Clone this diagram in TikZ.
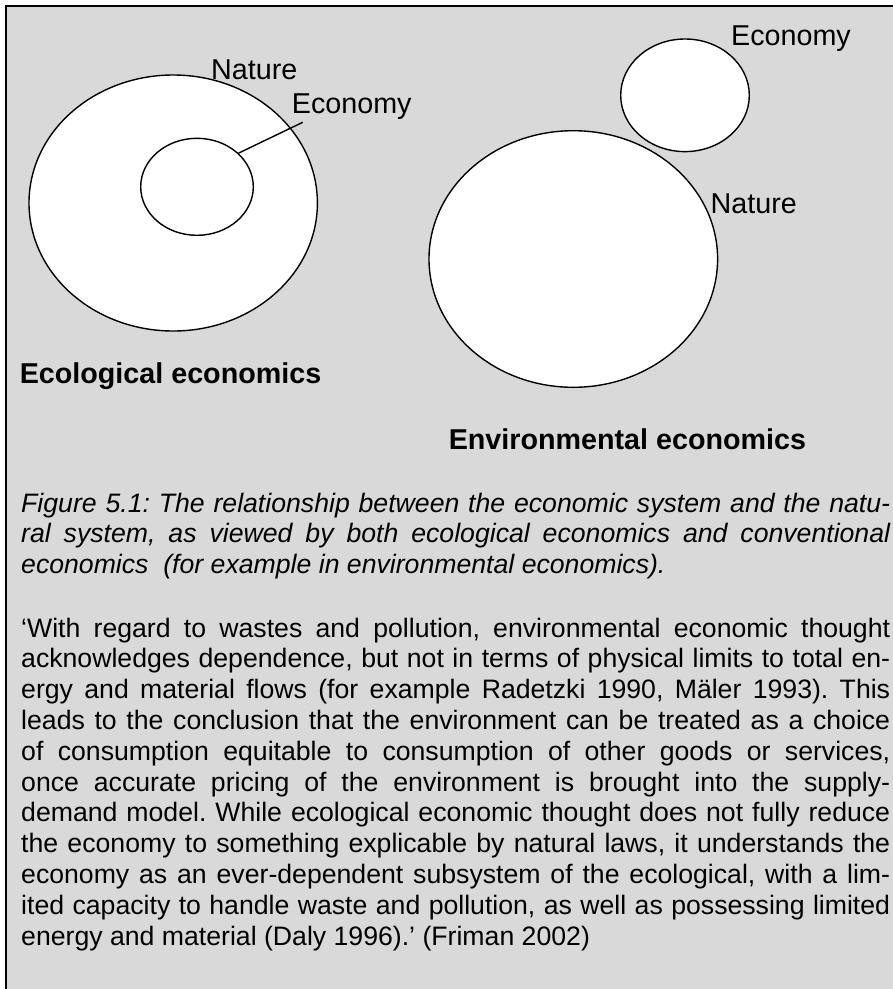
\documentclass[tikz,border=0pt]{standalone}
\usepackage{fontspec}
\setmainfont{Liberation Sans}
\usetikzlibrary{shapes.geometric}
\definecolor{panel}{HTML}{D9D9D9}
\frenchspacing
% one fully justified line of the text block
\newlength{\blockwd}
\setlength{\blockwd}{869pt}
\newcommand{\jline}[1]{\hbox to \blockwd{\spaceskip=0.278em plus 1fil\relax #1}}
\begin{document}
\begin{tikzpicture}[x=1pt,y=-1pt,
  blob/.style={ellipse, draw=black, fill=white, line width=1.4pt, inner sep=0pt},
  lbl/.style={font=\fontsize{28.7}{34}\selectfont, inner sep=0pt, anchor=base west},
  heading/.style={font=\fontsize{28.7}{34}\selectfont\bfseries, inner sep=0pt, anchor=base west},
  textblock/.style={inner sep=0pt, anchor=base west},
  leader/.style={draw=black, line width=1.4pt}]
\useasboundingbox (0,0) rectangle (893,989);
\fill[white] (0,0) rectangle (893,989);
\begin{scope}
\clip (0,0) rectangle (893,989);
% framed grey panel, its right and bottom sides run off the page
\draw[line width=2pt, fill=panel] (6,6) rectangle (910,1010);

% ecological economics: the economy inside nature
\node[blob, minimum width=288.4pt, minimum height=256pt] (natL) at (173.2,203) {};
\node[blob, minimum width=112.6pt, minimum height=97pt] (ecoL) at (197,186.8) {};
\node[lbl] (natLlbl) at (211,79) {Nature};
\node[lbl] (ecoLlbl) at (291.7,113.3) {Economy};
\coordinate (lead) at (302.7,122.3);
\draw[leader] (lead) -- (ecoL.39);

% environmental economics: the economy apart from nature
\node[blob, minimum width=128.6pt, minimum height=112.6pt] (ecoR) at (685,95.3) {};
\node[blob, minimum width=288.6pt, minimum height=256.6pt] (natR) at (573.3,259) {};
\node[lbl] (ecoRlbl) at (731,45) {Economy};
\node[lbl] (natRlbl) at (710.5,213.3) {Nature};

% headings
\node[heading] (ecoHead) at (19.6,383) {Ecological economics};
\node[heading] (envHead) at (448.6,449) {Environmental economics};

% caption
\node[textblock] (caption) at (21,512) {\fontsize{26.65}{30.8}\selectfont\itshape
  \vtop{\baselineskip=30.8pt
    \jline{Figure 5.1: The relationship between the economic system and the natu-}
    \jline{ral system, as viewed by both ecological economics and conventional}
    \hbox{economics~ (for example in environmental economics).}}};

% quotation
\node[textblock] (quote) at (21,637) {\fontsize{26.65}{30.8}\selectfont
  \vtop{\baselineskip=30.8pt
    \jline{‘With regard to wastes and pollution, environmental economic thought}
    \jline{acknowledges dependence, but not in terms of physical limits to total en-}
    \jline{ergy and material flows (for example Radetzki 1990, Mäler 1993). This}
    \jline{leads to the conclusion that the environment can be treated as a choice}
    \jline{of consumption equitable to consumption of other goods or services,}
    \jline{once accurate pricing of the environment is brought into the supply-}
    \jline{demand model. While ecological economic thought does not fully reduce}
    \jline{the economy to something explicable by natural laws, it understands the}
    \jline{economy as an ever-dependent subsystem of the ecological, with a lim-}
    \jline{ited capacity to handle waste and pollution, as well as possessing limited}
    \hbox{energy and material (Daly 1996).’ (Friman 2002)}}};
\end{scope}
\end{tikzpicture}
\end{document}
